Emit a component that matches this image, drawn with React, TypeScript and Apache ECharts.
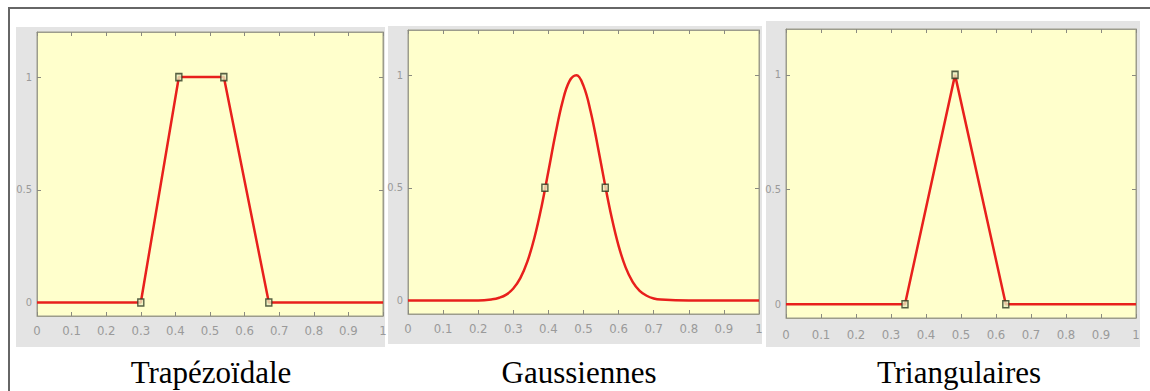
import { useEffect, useRef } from "react";
import * as echarts from "echarts";

// ---- data ----
const panelTitles = ["Trapézoïdale", "Gaussiennes", "Triangulaires"];
const yTickValues = [0, 0.5, 1];

const trapX = [0, 0.3, 0.41, 0.54, 0.67, 1];
const trapY = [0, 0, 1, 1, 0, 0];
const trapMarkX = [0.3, 0.41, 0.54, 0.67];
const trapMarkY = [0, 1, 1, 0];

const gaussX = [0, 0.1, 0.2, 0.24, 0.26, 0.28, 0.3, 0.32, 0.34, 0.36, 0.38, 0.4, 0.42, 0.44, 0.46, 0.48, 0.5, 0.52, 0.54, 0.56, 0.58, 0.6, 0.62, 0.64, 0.66, 0.68, 0.7, 0.72, 0.8, 0.9, 1];
const gaussY = [0, 0, 0, 0.005, 0.012, 0.026, 0.053, 0.099, 0.172, 0.277, 0.413, 0.573, 0.737, 0.88, 0.973, 0.999, 0.952, 0.841, 0.689, 0.524, 0.37, 0.242, 0.147, 0.083, 0.043, 0.021, 0.009, 0.004, 0, 0, 0];
const gaussMarkX = [0.39, 0.562];
const gaussMarkY = [0.5, 0.5];

const triX = [0, 0.34, 0.483, 0.628, 1];
const triY = [0, 0, 1, 0, 0];
const triMarkX = [0.34, 0.483, 0.628];
const triMarkY = [0, 1, 0];

const lineSets = [
  { x: trapX, y: trapY, mx: trapMarkX, my: trapMarkY, smooth: false },
  { x: gaussX, y: gaussY, mx: gaussMarkX, my: gaussMarkY, smooth: 0.4 },
  { x: triX, y: triY, mx: triMarkX, my: triMarkY, smooth: false },
];

// ---- layout ----
const panels = [
  { box: [16, 27, 369, 320], grid: { left: 37, top: 32, width: 346, height: 284 }, labelMargin: 8, titleX: 211 },
  { box: [388, 26, 374, 318], grid: { left: 408, top: 30, width: 351, height: 284 }, labelMargin: 8, titleX: 579 },
  { box: [766, 21, 374, 326], grid: { left: 786, top: 29, width: 350, height: 289 }, labelMargin: 10, titleX: 959 },
];

const zip = (a: number[], b: number[]) => a.map((v, i) => [v, b[i]]);

export default function App() {
  const ref = useRef<HTMLDivElement>(null);
  useEffect(() => {
    const chart = echarts.init(ref.current!, null, { renderer: "svg" });
    const labelFont = "'Liberation Sans Narrow', 'DejaVu Sans Condensed', 'Liberation Sans', sans-serif";
    const grids: any[] = [];
    const xAxes: any[] = [];
    const yAxes: any[] = [];
    const series: any[] = [];
    const graphics: any[] = [
      { type: "line", z: 10, shape: { x1: 8, y1: 8, x2: 1150, y2: 8 }, style: { stroke: "#666", lineWidth: 2 } },
      { type: "line", z: 10, shape: { x1: 9, y1: 8, x2: 9, y2: 391 }, style: { stroke: "#666", lineWidth: 2 } },
    ];
    panels.forEach((p, i) => {
      grids.push({ ...p.grid, show: true, backgroundColor: "#ffffcc", borderColor: "#9c9c8c", borderWidth: 1, containLabel: false });
      const axisCommon = {
        type: "value",
        gridIndex: i,
        min: 0,
        max: 1,
        interval: 0.1,
        splitLine: { show: false },
        axisLine: { show: true, onZero: false, lineStyle: { color: "#9c9c8c", width: 1 } },
        axisTick: { show: true, inside: true, length: 4, lineStyle: { color: "#8a8a80" } },
      };
      xAxes.push({
        ...axisCommon,
        position: "bottom",
        axisLabel: {
          show: true,
          margin: p.labelMargin,
          color: "#9a9a9a",
          fontSize: 13,
          fontFamily: labelFont,
          formatter: (v: number) => String(Math.round(v * 10) / 10),
        },
      });
      xAxes.push({ ...axisCommon, position: "top", axisLabel: { show: false } });
      const yCommon = {
        type: "value",
        gridIndex: i,
        min: -0.06,
        max: 1.2,
        splitLine: { show: false },
        axisLine: { show: true, onZero: false, lineStyle: { color: "#9c9c8c", width: 1 } },
        axisTick: { show: true, inside: true, length: 4, customValues: yTickValues, lineStyle: { color: "#8a8a80" } },
      };
      yAxes.push({
        ...yCommon,
        position: "left",
        axisLabel: { show: true, customValues: yTickValues, margin: 5, color: "#9a9a9a", fontSize: 11, fontFamily: labelFont },
      });
      yAxes.push({ ...yCommon, position: "right", axisLabel: { show: false } });
      const d = lineSets[i];
      series.push({
        type: "line",
        xAxisIndex: 2 * i,
        yAxisIndex: 2 * i,
        data: zip(d.x, d.y),
        smooth: d.smooth,
        showSymbol: false,
        symbol: "none",
        lineStyle: { color: "#e8201c", width: 2.5 },
        z: 3,
      });
      series.push({
        type: "scatter",
        xAxisIndex: 2 * i,
        yAxisIndex: 2 * i,
        data: zip(d.mx, d.my),
        symbol: "rect",
        symbolSize: [6, 7],
        itemStyle: { color: "#e9eec0", borderColor: "#2d3a22", borderWidth: 1.5 },
        z: 4,
      });
      const [bx, by, bw, bh] = p.box;
      graphics.push({ type: "rect", z: -10, shape: { x: bx, y: by, width: bw, height: bh }, style: { fill: "#e4e4e4" }, silent: true });
      graphics.push({
        type: "text",
        z: 10,
        x: p.titleX,
        y: 372,
        style: {
          text: panelTitles[i],
          fill: "#000",
          fontSize: 31,
          fontFamily: "'Liberation Serif', 'Times New Roman', serif",
          align: "center",
          verticalAlign: "middle",
        },
      });
    });
    chart.setOption({
      animation: false,
      backgroundColor: "#ffffff",
      grid: grids,
      xAxis: xAxes,
      yAxis: yAxes,
      series,
      graphic: graphics,
    });
    return () => chart.dispose();
  }, []);
  return (
    <div
      ref={ref}
      style={{ position: "fixed", left: 0, top: 0, width: 1150, height: 391, background: "#fff" }}
    />
  );
}
